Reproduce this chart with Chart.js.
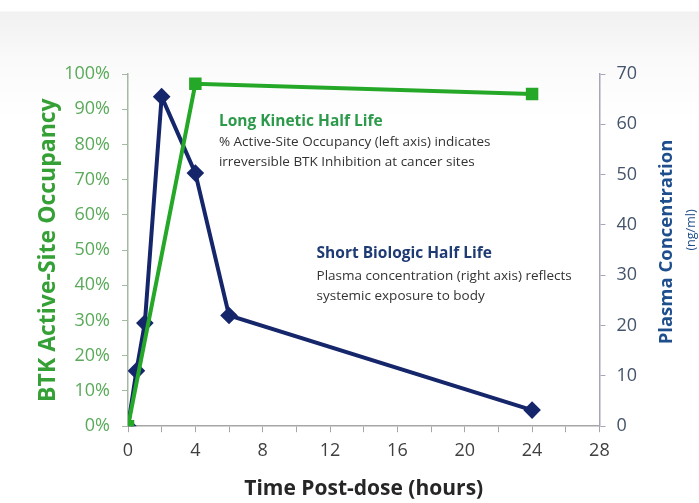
<!DOCTYPE html>
<html>
<head>
<meta charset="utf-8">
<script src="https://cdn.jsdelivr.net/npm/chart.js@4.4.0/dist/chart.umd.min.js"></script>
<style>
  html, body { margin: 0; padding: 0; }
  body {
    width: 699px; height: 503px; overflow: hidden;
    background: linear-gradient(to bottom, #ffffff 0px, #ffffff 11px, #f1f1f1 12px, #fafafa 60px, #ffffff 120px);
  }
  #wrap { position: relative; width: 699px; height: 503px; }
</style>
</head>
<body>
<div id="wrap"><canvas id="chart"></canvas></div>
<script>
// hours after dose
const occHours = [0, 4, 24];
// % active-site occupancy (left axis, fraction)
const occValues = [0, 0.972, 0.943];

const plasmaHours = [0, 0.5, 1, 2, 4, 6, 24];
// plasma concentration ng/ml (right axis)
const plasmaValues = [0, 11, 20.5, 65.5, 50.3, 22, 3.2];

// tick marks every 2 h, labels every 4 h
const xTicks = [0, 2, 4, 6, 8, 10, 12, 14, 16, 18, 20, 22, 24, 26, 28];

const GREEN = "#25a828";
const NAVY = "#16266b";

const toPoints = (xs, ys) => xs.map((x, i) => ({ x: x, y: ys[i] }));

// notes drawn at data coordinates (hours, left-axis fraction)
const notes = [
    { x: 5.4, y: 0.866, color: "#2c9a4a", bold: true, size: 15.5, text: "Long Kinetic Half Life" },
    { x: 5.4, y: 0.806, color: "#333333", bold: false, size: 13.5, text: "% Active-Site Occupancy (left axis) indicates" },
    { x: 5.4, y: 0.749, color: "#333333", bold: false, size: 13.5, text: "irreversible BTK Inhibition at cancer sites" },
    { x: 11.2, y: 0.49, color: "#1f3b73", bold: true, size: 15.5, text: "Short Biologic Half Life" },
    { x: 11.2, y: 0.427, color: "#333333", bold: false, size: 13.5, text: "Plasma concentration (right axis) reflects" },
    { x: 11.2, y: 0.37, color: "#333333", bold: false, size: 13.5, text: "systemic exposure to body" }
];

const notesPlugin = {
    id: "notes",
    afterDraw(chart) {
        const ctx = chart.ctx;
        const xs = chart.scales.x;
        const ys = chart.scales.y;
        ctx.save();
        ctx.textBaseline = "middle";
        ctx.textAlign = "left";
        notes.forEach(n => {
            ctx.font = (n.bold ? "bold " : "") + n.size + "px 'Open Sans', sans-serif";
            ctx.fillStyle = n.color;
            ctx.fillText(n.text, xs.getPixelForValue(n.x), ys.getPixelForValue(n.y));
        });

        // right axis titles
        ctx.translate(667, 242);
        ctx.rotate(-Math.PI / 2);
        ctx.textAlign = "center";
        ctx.font = "bold 18.5px 'Open Sans', sans-serif";
        ctx.fillStyle = "#1f4e8c";
        ctx.fillText("Plasma Concentration", 0, 0);
        ctx.font = "12.5px 'Open Sans', sans-serif";
        ctx.fillText("(ng/ml)", 12, 24);
        ctx.restore();
    }
};

new Chart(document.getElementById("chart"), {
    type: "line",
    data: {
        datasets: [
            {
                label: "Occupancy",
                data: toPoints(occHours, occValues),
                yAxisID: "y",
                borderColor: GREEN,
                backgroundColor: GREEN,
                borderWidth: 4,
                pointStyle: "rect",
                pointRadius: 6,
                pointHoverRadius: 6,
                tension: 0
            },
            {
                label: "Plasma",
                data: toPoints(plasmaHours, plasmaValues),
                yAxisID: "y1",
                borderColor: NAVY,
                backgroundColor: NAVY,
                borderWidth: 4,
                pointStyle: "rectRot",
                pointRadius: 6,
                pointHoverRadius: 6,
                tension: 0
            }
        ]
    },
    options: {
        responsive: true,
        maintainAspectRatio: false,
        animation: false,
        layout: { padding: { top: 74, right: 51, bottom: 1, left: 35 } },
        plugins: {
            legend: { display: false },
            tooltip: { enabled: false }
        },
        scales: {
            x: {
                type: "linear",
                min: 0,
                max: 28,
                afterBuildTicks: axis => { axis.ticks = xTicks.map(v => ({ value: v })); },
                grid: { drawOnChartArea: false, color: "#a6a6a6", tickLength: 6 },
                border: { color: "#a6a6a6", width: 1.5 },
                ticks: {
                    color: "#404040",
                    font: { family: "'Open Sans', sans-serif", size: 18 },
                    padding: 8,
                    autoSkip: false,
                    maxRotation: 0,
                    callback: v => (v % 4 === 0 ? v : "")
                },
                title: {
                    display: true,
                    text: "Time Post-dose (hours)",
                    color: "#262626",
                    font: { family: "'Open Sans', sans-serif", size: 21, weight: "bold" },
                    padding: { top: 7, bottom: 0 }
                }
            },
            y: {
                position: "left",
                min: 0,
                max: 1,
                afterFit: axis => { axis.width = 93; },
                grid: { drawOnChartArea: false, color: "#a6b8a6", tickLength: 6 },
                border: { color: "#a6b8a6", width: 1.5 },
                ticks: {
                    stepSize: 0.1,
                    color: "#5aaa5a",
                    font: { family: "'Open Sans', sans-serif", size: 18 },
                    padding: 12,
                    callback: v => Math.round(v * 100) + "%"
                },
                title: {
                    display: true,
                    text: "BTK Active-Site Occupancy",
                    color: "#35a035",
                    font: { family: "'Open Sans', sans-serif", size: 23, weight: "bold" },
                    padding: { top: 0, bottom: 0 }
                }
            },
            y1: {
                position: "right",
                min: 0,
                max: 70,
                grid: { drawOnChartArea: false, color: "#a6a6b8", tickLength: 6 },
                border: { color: "#a6a6b8", width: 1.5 },
                ticks: {
                    stepSize: 10,
                    color: "#44546a",
                    font: { family: "'Open Sans', sans-serif", size: 18 },
                    padding: 11
                }
            }
        }
    },
    plugins: [notesPlugin]
});
</script>
</body>
</html>
